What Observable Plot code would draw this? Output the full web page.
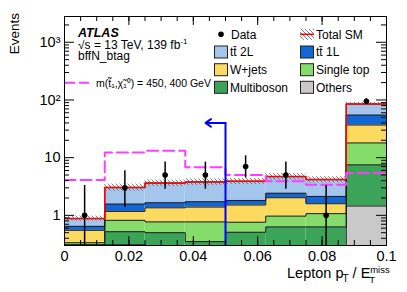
<!DOCTYPE html>
<html>
<head>
<meta charset="utf-8">
<script src="https://cdn.jsdelivr.net/npm/d3@7"></script>
<script src="https://cdn.jsdelivr.net/npm/@observablehq/plot@0.6"></script>
<style>
  html, body { margin: 0; padding: 0; background: #fff; }
  #chart svg { display: block; }
</style>
</head>
<body>
<div id="chart"></div>
<script>
// ---------------- data ----------------
const binEdges   = [0, 0.0125, 0.025, 0.0375, 0.05, 0.0625, 0.075, 0.0875, 0.1];
const layerNames = ["Others", "Multiboson", "Single top", "W+jets", "tt\u0304 1L", "tt\u0304 2L"];
const others     = [0.01, 0.31, 0.05, 0.05, 0.05, 0.05, 0.05, 1.45];
const multiboson = [0.30, 0.21, 0.45, 0.30, 0.46, 0.58, 0.58, 6.05];
const singleTop  = [0.025, 0.30, 0.27, 0.42, 0.25, 0.34, 0.44, 10.5];
const wjets      = [0.215, 0.35, 0.58, 0.62, 0.75, 1.05, 0.52, 18.8];
const ttbar1L    = [0.096, 0.40, 0.30, 0.33, 0.30, 0.40, 0.54, 18.0];
const ttbar2L    = [0.234, 1.48, 1.98, 2.08, 2.09, 2.28, 2.04, 30.2];
const totalUnc   = [0.10, 0.14, 0.13, 0.13, 0.12, 0.13, 0.12, 0.06];   // relative
const dataCounts = [1, 3, 5, 5, 7, 5, 1, 95];
const dataLow    = [0.17, 1.37, 2.84, 2.84, 4.42, 2.84, 0.17, 85.3];
const dataHigh   = [3.30, 5.92, 8.38, 8.38, 10.77, 8.38, 3.30, 105.3];
const signal     = [4.1, 12.3, 13.2, 6.8, 5.0, 3.9, 3.4, 5.4];
const cutLine    = [{x: 0.05, tip: 0.0438, y: 40}];
const xTickValues = [0, 0.02, 0.04, 0.06, 0.08, 0.1];
const xTickLabels = ["0", "0.02", "0.04", "0.06", "0.08", "0.1"];
const yTickValues = [1, 10, 100, 1000];
const yTickLabels = ["1", "10", "10\u00B2", "10\u00B3"];

// ---------------- styling ----------------
const layerColors = ["#c9c9c9", "#3ca458", "#86dc6b", "#fcd95f", "#1266d6", "#a4c6ec"];
const FONT = "'Liberation Sans', Arial, Helvetica, sans-serif";
const W = 407, H = 292, mL = 64, mR = 21, mT = 16, mB = 47;
const innerW = W - mL - mR, innerH = H - mT - mB;
const yDomain = [0.3, 2800];

// ---------------- derived tables ----------------
const layerValues = [others, multiboson, singleTop, wjets, ttbar1L, ttbar2L];
const nBins = binEdges.length - 1;
const stackRows = [], outlineRows = [];
let base = new Array(nBins).fill(0);
layerValues.forEach((vals, k) => {
  const top = base.map((b, i) => b + vals[i]);
  for (let i = 0; i < nBins; i++) {
    stackRows.push({layer: layerNames[k], x1: binEdges[i], x2: binEdges[i + 1], y1: base[i] > 0 ? base[i] : 1e-3, y2: top[i]});
  }
  for (let i = 0; i <= nBins; i++) {
    outlineRows.push({layer: layerNames[k], x: binEdges[i], y: top[Math.min(i, nBins - 1)]});
  }
  base = top;
});
const totals = base;
const totalLine = binEdges.map((e, i) => ({x: e, y: totals[Math.min(i, nBins - 1)]}));
const signalLine = binEdges.map((e, i) => ({x: e, y: signal[Math.min(i, nBins - 1)]}));
const uncRows = totals.map((t, i) => ({x1: binEdges[i], x2: binEdges[i + 1], y1: t * (1 - totalUnc[i]), y2: t * (1 + totalUnc[i])}));
const dataRows = dataCounts.map((n, i) => ({x: (binEdges[i] + binEdges[i + 1]) / 2, y: n, lo: dataLow[i], hi: dataHigh[i]}));

// tick positions
const xMinor = d3.range(0, 0.1001, 0.005);
const yMinor = [];
for (let d = 0.1; d <= 1000; d *= 10) for (let m = 1; m <= 9; m++) {
  const v = +(m * d).toPrecision(3);
  if (v >= yDomain[0] && v <= yDomain[1] && !yTickValues.includes(v)) yMinor.push(v);
}

const tickStyle = {stroke: "black", strokeWidth: 1};
const chart = Plot.plot({
  width: W, height: H,
  marginLeft: mL, marginRight: mR, marginTop: mT, marginBottom: mB,
  style: {fontFamily: FONT, fontSize: "14.5px", background: "white", color: "black"},
  x: {domain: [0, 0.1], axis: null},
  y: {type: "log", domain: yDomain, clamp: true, axis: null},
  color: {domain: layerNames, range: layerColors},
  marks: [
    Plot.rect(stackRows, {x1: "x1", x2: "x2", y1: "y1", y2: "y2", fill: "layer", clip: true}),
    Plot.line(outlineRows, {x: "x", y: "y", z: "layer", curve: "step-after", stroke: "#1a1a1a", strokeWidth: 1, clip: true}),
    Plot.rect(uncRows, {x1: "x1", x2: "x2", y1: "y1", y2: "y2", fill: "url(#hatch)", clip: true}),
    Plot.line(totalLine, {x: "x", y: "y", curve: "step-after", stroke: "#ff0000", strokeWidth: 1.5, clip: true}),
    Plot.line(signalLine, {x: "x", y: "y", curve: "step-after", stroke: "#ff3dff", strokeWidth: 2, strokeDasharray: "11,5", clip: true}),
    Plot.ruleX(cutLine, {x: "x", y1: yDomain[0], y2: "y", stroke: "#0000ff", strokeWidth: 2}),
    Plot.arrow(cutLine, {x1: "x", y1: "y", x2: "tip", y2: "y", stroke: "#0000ff", strokeWidth: 2, headLength: 7, headAngle: 70}),
    Plot.ruleX(dataRows, {x: "x", y1: "lo", y2: "hi", stroke: "black", strokeWidth: 1.5, clip: true}),
    Plot.dot(dataRows, {x: "x", y: "y", r: 2.8, fill: "black", stroke: null}),
    // inward ticks
    Plot.ruleX(xMinor, {x: d => d, insetTop: innerH - 5, ...tickStyle}),
    Plot.ruleX(xMinor, {x: d => d, insetBottom: innerH - 5, ...tickStyle}),
    Plot.ruleX(xTickValues, {x: d => d, insetTop: innerH - 9, ...tickStyle}),
    Plot.ruleX(xTickValues, {x: d => d, insetBottom: innerH - 9, ...tickStyle}),
    Plot.ruleY(yMinor, {y: d => d, insetRight: innerW - 5, ...tickStyle}),
    Plot.ruleY(yMinor, {y: d => d, insetLeft: innerW - 5, ...tickStyle}),
    Plot.ruleY(yTickValues, {y: d => d, insetRight: innerW - 10, ...tickStyle}),
    Plot.ruleY(yTickValues, {y: d => d, insetLeft: innerW - 10, ...tickStyle}),
    Plot.frame({stroke: "black", strokeWidth: 1}),
    Plot.axisX(xTickValues, {anchor: "bottom", tickSize: 0, tickPadding: 5, label: null, fontSize: 14.5,
      tickFormat: d => xTickLabels[xTickValues.indexOf(d)]}),
    Plot.axisY(yTickValues, {anchor: "left", tickSize: 0, tickPadding: 4, label: null, fontSize: 14.5,
      tickFormat: d => yTickLabels[yTickValues.indexOf(d)]})
  ]
});
document.getElementById("chart").appendChild(chart);

// ---------------- hatch pattern, labels, legend ----------------
const svg = d3.select(chart);
const defs = svg.insert("defs", ":first-child");
const pat = defs.append("pattern").attr("id", "hatch").attr("patternUnits", "userSpaceOnUse")
  .attr("width", 4).attr("height", 4);
pat.append("path").attr("d", "M-1,-1 L5,5 M-1,3 L1,5 M3,-1 L5,1")
  .attr("stroke", "#6e6e6e").attr("stroke-width", 0.9).attr("fill", "none");

const g = svg.append("g").attr("font-family", FONT).attr("fill", "black").attr("text-anchor", "start");

// y-axis title
g.append("text").attr("transform", "translate(19,13) rotate(-90)")
  .attr("text-anchor", "end").attr("font-size", 13.5).text("Events");

// x-axis title
const xl = g.append("text").attr("x", 287).attr("y", 278).attr("font-size", 14.5);
xl.append("tspan").text("Lepton p");
xl.append("tspan").attr("font-size", 10).attr("dx", -1).attr("dy", 4).text("T");
xl.append("tspan").attr("dy", -4).text(" / E");
xl.append("tspan").attr("font-size", 9.5).attr("dx", -1).attr("dy", 5).text("T");
xl.append("tspan").attr("font-size", 9.5).attr("dx", -5).attr("dy", -10.5).text("miss");

// ATLAS block
g.append("text").attr("x", 78).attr("y", 36.5).attr("font-size", 12.5)
  .attr("font-weight", "bold").attr("font-style", "italic").text("ATLAS");
const sl = g.append("text").attr("x", 78).attr("y", 48.5).attr("font-size", 12);
sl.append("tspan").text("\u221As = 13 TeV, 139 fb");
sl.append("tspan").attr("font-size", 8).attr("dy", -5).text("-1");
g.append("text").attr("x", 78).attr("y", 60).attr("font-size", 12).text("bffN_btag");

// signal legend
g.append("line").attr("x1", 65).attr("x2", 92).attr("y1", 82.7).attr("y2", 82.7)
  .attr("stroke", "#ff3dff").attr("stroke-width", 2).attr("stroke-dasharray", "10,4");
g.append("text").attr("x", 96).attr("y", 86.5).attr("font-size", 10.5)
  .text("m(t\u0303\u2081,\u03C7\u0303\u2081\u2070) = 450, 400 GeV");

// main legend
const rowY = [34.3, 52, 69.7, 87.3];
const col1 = 214, col2 = 300, boxW = 14, boxH = 12;
// Data
g.append("circle").attr("cx", col1 + 7).attr("cy", rowY[0]).attr("r", 2.8).attr("fill", "black");
g.append("text").attr("x", col1 + 17).attr("y", rowY[0] + 4.3).attr("font-size", 12).text("Data");
// Total SM
g.append("rect").attr("x", col2).attr("y", rowY[0] - 5.5).attr("width", boxW).attr("height", 11)
  .attr("fill", "url(#hatch)");
g.append("line").attr("x1", col2).attr("x2", col2 + boxW).attr("y1", rowY[0]).attr("y2", rowY[0])
  .attr("stroke", "#ff0000").attr("stroke-width", 1.5);
g.append("text").attr("x", col2 + 16).attr("y", rowY[0] + 4.3).attr("font-size", 12).text("Total SM");
const legendItems = [
  [5, col1, 1], [4, col2, 1],
  [3, col1, 2], [2, col2, 2],
  [1, col1, 3], [0, col2, 3]
];
legendItems.forEach(([k, cx, r]) => {
  g.append("rect").attr("x", cx + 0.5).attr("y", rowY[r] - boxH / 2).attr("width", boxW - 1).attr("height", boxH)
    .attr("fill", layerColors[k]).attr("stroke", "#222").attr("stroke-width", 1);
  g.append("text").attr("x", cx + 16).attr("y", rowY[r] + 4.3).attr("font-size", 12).text(layerNames[k]);
});
</script>
</body>
</html>
